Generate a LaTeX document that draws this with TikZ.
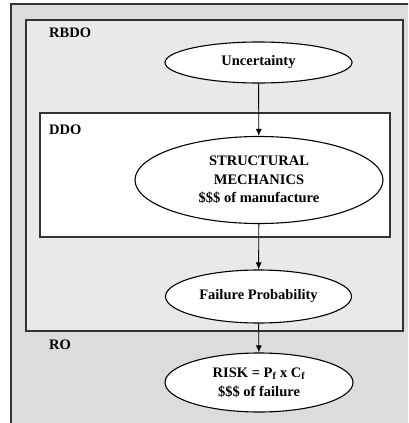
\documentclass[tikz,border=0pt]{standalone}
\usepackage{fontspec}
\setmainfont{Liberation Serif}
\usetikzlibrary{shapes.geometric,arrows.meta}
\definecolor{rogray}{HTML}{DCDCDC}
\definecolor{rbdogray}{HTML}{E9E9E9}
\definecolor{edgegray}{HTML}{333333}
\tikzset{x=1pt,y=-1pt,
  bubble/.style={ellipse,draw=black,fill=white,line width=1.1pt,inner sep=0pt,
    align=center,font=\fontsize{14.5}{18.5}\selectfont\bfseries},
  area/.style={draw=edgegray,line width=1.2pt},
  tag/.style={anchor=west,inner sep=0pt,font=\fontsize{14.5}{17}\selectfont\bfseries},
  flow/.style={-{Latex[length=7pt,width=6pt]},line width=0.9pt}}

\begin{document}
\begin{tikzpicture}
        \useasboundingbox (0,0) rectangle (408,423);
        \clip (0,0) rectangle (408,423);
        \draw [area,fill=rogray] (11,4) rectangle (440,450);
        \draw [area,fill=rbdogray] (26,20) rectangle (403,331);
        \draw [area,fill=white] (40,113) rectangle (390,237);

        \node [tag] (rbdo) at (49,33) {RBDO};
        \node [tag] (ddo) at (49,130) {DDO};
        \node [tag] (ro) at (49,345) {RO};

        \node [bubble,minimum width=187pt,minimum height=41pt] (unc) at (258.5,62.5) {Uncertainty};
        \node [bubble,minimum width=248pt,minimum height=87pt] (mech) at (259,180) {STRUCTURAL\\MECHANICS\\\$\$\$ of manufacture};
        \node [bubble,minimum width=186pt,minimum height=53pt] (fail) at (258.5,296.5) {Failure Probability};
        \node [bubble,minimum width=188pt,minimum height=59pt] (risk) at (259,382.5) {RISK = P\textsubscript{f} x C\textsubscript{f}\\\$\$\$ of failure};

        \draw [flow] (unc)  to (mech);
        \draw [flow] (mech) to (fail);
        \draw [flow] (fail) to (risk);
      \end{tikzpicture}
\end{document}
